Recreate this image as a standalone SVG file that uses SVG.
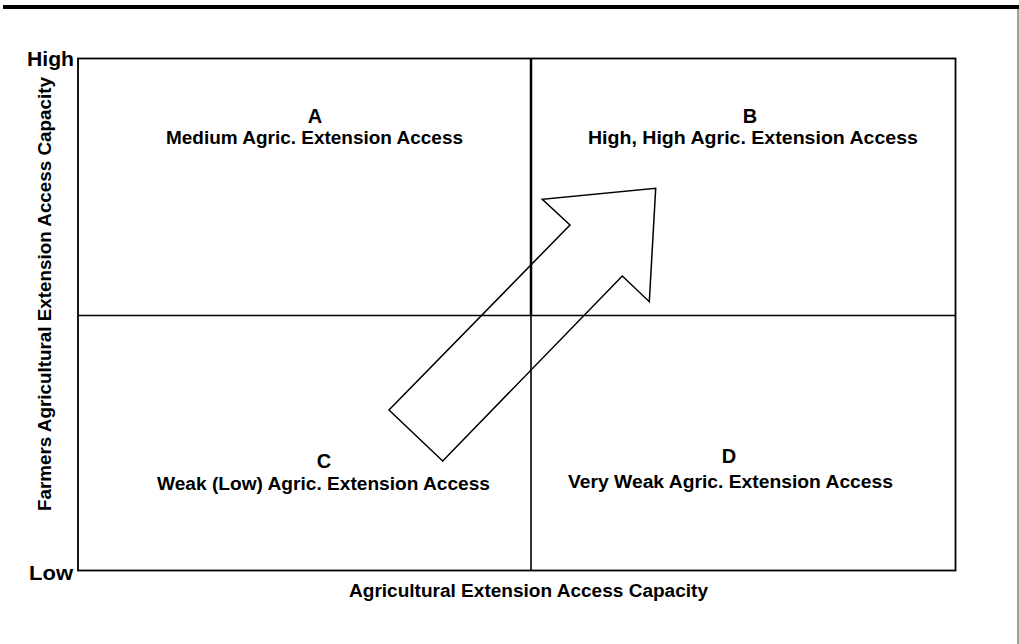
<svg xmlns="http://www.w3.org/2000/svg" width="1019" height="644" viewBox="0 0 1019 644">
<style>
.t{font-family:"Liberation Sans",Arial,sans-serif;font-weight:bold;fill:#000;}
.q{font-size:18px;text-anchor:middle;}
.L{font-size:20px;text-anchor:middle;}
.hl{font-size:21px;text-anchor:end;}
.ax{font-size:18px;text-anchor:middle;}
.ln{stroke:#000;fill:none;}
</style>
<rect x="0" y="0" width="1019" height="644" fill="#fff"/>
<g id="frame">
<line x1="3" y1="7" x2="1019" y2="7" stroke="#000" stroke-width="4"/>
<line x1="1018" y1="9" x2="1018" y2="644" stroke="#808080" stroke-width="1.5"/>
</g>
<g id="grid">
<rect class="ln" x="78" y="58.5" width="877.5" height="512" stroke-width="1.8"/>
<line class="ln" x1="531" y1="58.5" x2="531" y2="315.5" stroke-width="2.5"/>
<line class="ln" x1="531" y1="315.5" x2="531" y2="570.5" stroke-width="1.6"/>
<line class="ln" x1="78" y1="315.5" x2="955.5" y2="315.5" stroke-width="1.6"/>
</g>
<g id="axes">
<text class="t hl" x="74" y="66" textLength="47" lengthAdjust="spacingAndGlyphs">High</text>
<text class="t hl" x="73" y="580" textLength="44" lengthAdjust="spacingAndGlyphs">Low</text>
<text class="t ax" x="528.5" y="597" textLength="359" lengthAdjust="spacingAndGlyphs">Agricultural Extension Access Capacity</text>
<text class="t ax" transform="translate(51,294) rotate(-90)" x="0" y="0" textLength="434" lengthAdjust="spacingAndGlyphs">Farmers Agricultural Extension Access Capacity</text>
</g>
<g id="quadA">
<text class="t L" x="315" y="123">A</text>
<text class="t q" x="314.5" y="143.5" textLength="297" lengthAdjust="spacingAndGlyphs">Medium Agric. Extension Access</text>
</g>
<g id="quadB">
<text class="t L" x="750" y="123">B</text>
<text class="t q" x="753" y="143.5" textLength="330" lengthAdjust="spacingAndGlyphs">High, High Agric. Extension Access</text>
</g>
<g id="quadC">
<text class="t L" x="324" y="468">C</text>
<text class="t q" x="323.5" y="490" textLength="333" lengthAdjust="spacingAndGlyphs">Weak (Low) Agric. Extension Access</text>
</g>
<g id="quadD">
<text class="t L" x="729" y="463">D</text>
<text class="t q" x="730.5" y="488" textLength="325" lengthAdjust="spacingAndGlyphs">Very Weak Agric. Extension Access</text>
</g>
<g id="connectors">
<polygon class="ln" stroke-width="1.5" stroke-linejoin="miter" points="389,410 442.7,461 622.3,276 649.3,301.7 655.7,188.3 542.3,199.3 570,225"/>
</g>
</svg>
